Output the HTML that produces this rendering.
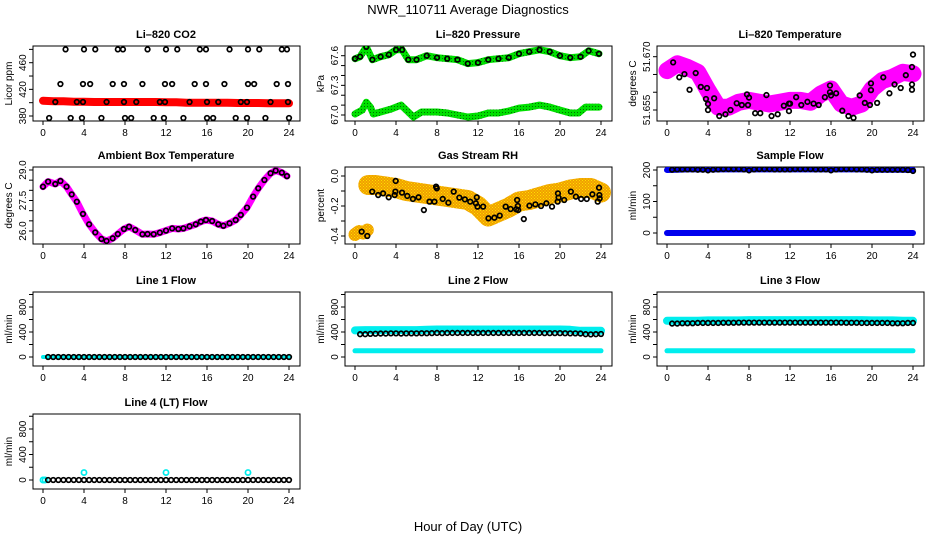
<!DOCTYPE html>
<html><head><meta charset="utf-8"><style>
html,body{margin:0;padding:0;background:#fff;}
svg{display:block;font-family:"Liberation Sans",sans-serif;}
</style></head><body>
<svg id="c" width="936" height="540" viewBox="0 0 936 540" xmlns="http://www.w3.org/2000/svg">
<defs>
<pattern id="rhPat" width="3" height="3" patternUnits="userSpaceOnUse">
<rect width="3" height="3" fill="#f0a000"/>
<rect x="0" y="0" width="1" height="1" fill="#ffe000"/>
<rect x="1.5" y="1.5" width="1" height="1" fill="#ffe000"/>
</pattern>
<pattern id="grPat" width="3" height="3" patternUnits="userSpaceOnUse">
<rect width="3" height="3" fill="#00e000"/>
<rect x="1" y="1" width="1" height="1" fill="#007000"/>
</pattern>
</defs>
<rect width="936" height="540" fill="#fff"/>
<text x="468" y="14" text-anchor="middle" font-size="13">NWR_110711  Average Diagnostics</text>
<text x="468" y="531" text-anchor="middle" font-size="13">Hour of Day (UTC)</text>
</svg>
<script>
// ---------- data ----------
const xTicks = [0,4,8,12,16,20,24];
const H48 = [0.5,1,1.5,2,2.5,3,3.5,4,4.5,5,5.5,6,6.5,7,7.5,8,8.5,9,9.5,10,10.5,11,11.5,12,12.5,13,13.5,14,14.5,15,15.5,16,16.5,17,17.5,18,18.5,19,19.5,20,20.5,21,21.5,22,22.5,23,23.5,24];
const H25 = [0,1,2,3,4,5,6,7,8,9,10,11,12,13,14,15,16,17,18,19,20,21,22,23,24];

// Li-820 CO2
const co2BandVals = [403,402,402,401.5,401.5,401,401,401,401,401,401,401,400.5,400.5,400,400,400,400,400,399.5,399.5,399.5,399,399,399];
const co2Hours = [2.2,4.0,5.1,7.3,7.8,10.2,12.0,13.1,15.3,15.9,18.2,20.0,21.1,23.3,23.8,
 1.7,3.9,4.6,6.8,7.9,9.7,11.9,12.6,14.8,15.9,17.7,20.0,20.6,22.8,23.9,
 1.2,3.3,3.9,6.2,7.9,9.1,11.4,11.9,14.3,16.0,17.1,19.3,19.9,22.2,23.9,
 0.6,2.7,3.8,5.7,8.0,8.6,10.8,11.8,13.7,16.0,16.6,18.8,19.9,21.7,24.0];
const co2Vals = [480,480,480,480,480,480,480,480,480,480,480,480,480,480,480,
 428,428,428,428,428,428,428,428,428,428,428,428,428,428,428,
 401,401,401,401,401,401,401,401,401,401,401,401,401,401,401,
 377,377,377,377,377,377,377,377,377,377,377,377,377,377,377];

// Li-820 Pressure
const presUpHours = [0,0.5,1.1,1.7,2.5,3.3,4,4.6,5.2,6,7,8,9,10,11,12,13,14,15,16,17,18,19,20,21,22,22.8,23.8];
const presUpVals = [67.57,67.59,67.69,67.56,67.59,67.61,67.66,67.66,67.56,67.56,67.60,67.58,67.57,67.56,67.52,67.53,67.56,67.57,67.58,67.62,67.64,67.66,67.64,67.60,67.58,67.59,67.65,67.62];
const presLoHours = [0,0.7,1.1,1.5,1.8,2.5,3.5,4.5,5,5.7,6.5,8,9,10,11,12,13,14,15,16,17,18,19,20,21,21.8,22.5,23.8];
const presLoVals = [67.01,67.05,67.13,67.08,67.01,67.03,67.06,67.10,67.05,66.98,67.03,67.03,67.02,67.00,66.98,66.99,67.02,67.02,67.04,67.07,67.08,67.10,67.08,67.05,67.02,67.02,67.08,67.08];

// Li-820 Temperature
const tempBandVals = [51.6661,51.6680,51.6670,51.6656,51.6605,51.6558,51.6558,51.6572,51.6577,51.6572,51.6567,51.6572,51.6577,51.6577,51.6572,51.6595,51.6609,51.6567,51.6558,51.6567,51.6609,51.6633,51.6642,51.6656,51.6652];
const tempHours = [0.6,1.2,1.7,2.2,2.8,3.3,3.8,3.9,4.0,4.0,4.6,5.1,5.7,6.2,6.8,7.3,7.8,7.9,8.0,8.6,9.1,9.7,10.2,10.8,11.4,11.9,11.9,12.0,12.6,13.1,13.7,14.3,14.8,15.4,15.9,15.9,16.0,16.5,17.1,17.7,18.2,18.8,19.3,19.8,19.9,19.9,20.5,21.1,21.7,22.2,22.8,23.3,23.9,23.9,23.9,24.0];
const tempVals = [51.6684,51.6642,51.6651,51.6607,51.6654,51.6615,51.6581,51.6612,51.6550,51.6567,51.6583,51.6533,51.6538,51.6550,51.6569,51.6564,51.6594,51.6564,51.6585,51.6541,51.6541,51.6592,51.6533,51.6538,51.6562,51.6568,51.6547,51.6568,51.6586,51.6564,51.6573,51.6568,51.6564,51.6586,51.6600,51.6619,51.6591,51.6597,51.6548,51.6533,51.6528,51.6591,51.6570,51.6564,51.6625,51.6606,51.6570,51.6642,51.6597,51.6622,51.6612,51.6648,51.6671,51.6607,51.6622,51.6706];

// Ambient Box Temperature
const ambHours = [0,0.5,1.2,1.7,2.3,2.8,3.3,3.9,4.5,5.1,5.7,6.2,6.8,7.3,7.9,8.4,9,9.7,10.2,10.8,11.4,12,12.6,13.2,13.7,14.3,14.9,15.4,15.9,16.5,17.1,17.6,18.2,18.8,19.3,19.9,20.5,21,21.6,22.2,22.7,23.3,23.8];
const ambVals = [28.18,28.43,28.31,28.46,28.18,27.80,27.44,26.84,26.33,25.93,25.61,25.51,25.64,25.85,26.10,26.21,26.05,25.84,25.85,25.84,25.92,26.02,26.13,26.10,26.13,26.23,26.33,26.46,26.54,26.49,26.33,26.26,26.38,26.54,26.79,27.15,27.69,28.10,28.51,28.84,28.97,28.87,28.70];

// Gas Stream RH
const rhEarlyHours = [0,0.4,0.8,1.2];
const rhEarlyVals = [-0.39,-0.37,-0.38,-0.36];
const rhBandHours = [1.3,2,3,4,5,6,7,8,9,10,11,12,13,14,15,16,17,18,19,20,21,22,23,24];
const rhBandVals = [-0.06,-0.06,-0.07,-0.08,-0.10,-0.11,-0.12,-0.13,-0.14,-0.15,-0.16,-0.20,-0.27,-0.24,-0.21,-0.17,-0.16,-0.14,-0.12,-0.11,-0.09,-0.08,-0.08,-0.11];
const rhHours = [0.65,1.2,1.68,2.26,2.74,3.29,3.87,3.94,3.97,4.59,5.10,5.65,6.20,6.72,7.27,7.75,7.91,7.98,8.56,9.11,9.63,10.18,10.72,11.24,11.79,11.88,11.95,12.50,13.02,13.60,14.12,14.70,15.18,15.73,15.82,15.89,15.92,16.47,17.02,17.60,18.15,18.67,19.22,19.77,19.80,19.86,20.41,21.06,21.55,22.06,22.61,23.16,23.68,23.81,23.84,23.87];
const rhVals = [-0.371,-0.400,-0.104,-0.127,-0.116,-0.142,-0.127,-0.104,-0.033,-0.111,-0.133,-0.153,-0.142,-0.227,-0.171,-0.171,-0.071,-0.082,-0.153,-0.178,-0.104,-0.144,-0.156,-0.171,-0.182,-0.142,-0.204,-0.204,-0.282,-0.278,-0.264,-0.204,-0.220,-0.222,-0.160,-0.200,-0.227,-0.287,-0.198,-0.189,-0.200,-0.182,-0.204,-0.171,-0.116,-0.144,-0.160,-0.104,-0.138,-0.153,-0.153,-0.122,-0.171,-0.078,-0.127,-0.149];

// Sample Flow
const sampleBlack = [201,202,202,202,202,201,201,199,201,202,203,203,203,203,202,199,202,203,203,203,202,202,202,202,203,203,203,203,202,202,202,199,202,203,203,203,202,202,201,199,201,201,201,201,201,201,200,197];
const sampleBlueHigh = [200,201,202,202,202,202,202,202,202,202,202,202,202,202,202,202,202,202,202,202,201,201,201,201,200];
const sampleBlueLow = [0,0,0,0,0,0,0,0,0,0,0,0,0,0,0,0,0,0,0,0,0,0,0,0,0];

// Flows
const line1Black = [0,0,0,0,0,0,0,0,0,0,0,0,0,0,0,0,0,0,0,0,0,0,0,0,0,0,0,0,0,0,0,0,0,0,0,0,0,0,0,0,0,0,0,0,0,0,0,0];
const line1Cyan = [0,0,0,0,0,0,0,0,0,0,0,0,0,0,0,0,0,0,0,0,0,0,0,0,0];
const line2Black = [365,365,370,372,375,375,378,378,375,378,378,378,380,380,382,385,382,385,385,385,385,385,385,385,385,385,385,385,385,385,385,385,385,385,385,385,382,382,382,382,380,378,378,375,365,362,365,368];
const line2CyanHigh = [425,430,430,430,430,430,430,435,440,440,440,440,440,440,440,440,440,440,440,440,440,435,420,420,420];
const line2CyanLow = [100,100,100,100,100,100,100,100,100,100,100,100,100,100,100,100,100,100,100,100,100,100,100,100,100];
const line3Black = [535,535,540,540,540,545,545,545,545,545,548,548,548,550,550,550,550,550,550,550,550,550,550,550,550,550,550,550,550,550,550,550,550,550,548,548,548,545,545,545,545,545,545,540,540,540,545,545];
const line3CyanHigh = [580,580,580,580,585,585,585,585,590,590,590,590,590,590,590,590,590,590,590,590,585,585,585,580,580];
const line3CyanLow = [100,100,100,100,100,100,100,100,100,100,100,100,100,100,100,100,100,100,100,100,100,100,100,100,100];
const line4Black = [0,0,0,0,0,0,0,0,0,0,0,0,0,0,0,0,0,0,0,0,0,0,0,0,0,0,0,0,0,0,0,0,0,0,0,0,0,0,0,0,0,0,0,0,0,0,0,0];
const line4CyanHours = [0,0.2,4,12,20];
const line4CyanVals = [0,0,117,117,117];

// ---------- drawing ----------
const NS = "http://www.w3.org/2000/svg";
const svg = document.getElementById('c');
function mk(tag, attrs, parent){
  const e = document.createElementNS(NS, tag);
  for (const k in attrs) e.setAttribute(k, attrs[k]);
  (parent||svg).appendChild(e);
  return e;
}
const rows = [[46,121],[167,244],[292,366],[414,489]];
function panel(col,row,title,ylab,v1,p1,v2,p2,yTicks,yLabels,name){
  const off = col*312;
  const [top,bot] = rows[row];
  const g = mk('g',{});
  
  
  const x = h => off+43 + h*(246/24);
  const y = v => p1 + (v-v1)*(p2-p1)/(v2-v1);
  const bx = mk('rect',{x:off+33,y:top,width:267,height:bot-top,fill:'none',stroke:'#000','stroke-width':1},g);
  
  
  const t = mk('text',{x:off+166,y:top-8,'text-anchor':'middle','font-size':11,'font-weight':'bold'},g);
  t.textContent = title;
  
  
  const yl = mk('text',{transform:`translate(${off+12},${(top+bot)/2}) rotate(-90)`,'text-anchor':'middle','font-size':10},g);
  yl.textContent = ylab;
  
  
  xTicks.forEach(h=>{
    mk('line',{x1:x(h),x2:x(h),y1:bot,y2:bot+4,stroke:'#000'},g);
    const tl = mk('text',{x:x(h),y:bot+15,'text-anchor':'middle','font-size':10},g);
    tl.textContent = h;
    
    
  });
  yTicks.forEach(v=>{
    mk('line',{x1:off+29,x2:off+33,y1:y(v),y2:y(v),stroke:'#000'},g);
  });
  yLabels.forEach(s=>{
    const tl = mk('text',{transform:`translate(${off+26},${y(parseFloat(s))}) rotate(-90)`,'text-anchor':'middle','font-size':10},g);
    tl.textContent = s;
    
    
  });
  const clip = 'clip-'+name;
  const cp = mk('clipPath',{id:clip},g);
  mk('rect',{x:off+33,y:top,width:267,height:bot-top},cp);
  const pg = mk('g',{'clip-path':`url(#${clip})`},g);
  return {x,y,g:pg};
}
function band(P,hours,vals,color,w,name){
  const pts = hours.map((h,i)=>P.x(h).toFixed(1)+','+P.y(vals[i]).toFixed(1)).join(' ');
  const e = mk('polyline',{points:pts,fill:'none',stroke:color,'stroke-width':w,'stroke-linejoin':'round','stroke-linecap':'round'},P.g);
  
  
}
function circles(P,hours,vals,color,name,r){
  hours.forEach((h,i)=>{
    const e = mk('circle',{cx:P.x(h),cy:P.y(vals[i]),r:r||2.3,fill:'none',stroke:color,'stroke-width':1.7},P.g);
    
    
  });
}

// Panel 1
let P = panel(0,0,'Li\u2013820 CO2','Licor ppm',380,116,460,62.7,[380,400,420,440,460,480],['380','420','460'],'co2');
band(P,H25,co2BandVals,'#f00',8,'co2-band');
circles(P,co2Hours,co2Vals,'#000','co2-point');

// Panel 2
P = panel(1,0,'Li\u2013820 Pressure','kPa',67.0,115,67.6,55.7,[67.0,67.1,67.2,67.3,67.4,67.5,67.6],['67.0','67.3','67.6'],'pressure');
band(P,presUpHours,presUpVals,'url(#grPat)',7,'pressure-upper-band');
band(P,presLoHours,presLoVals,'url(#grPat)',7,'pressure-lower-band');
circles(P,presUpHours,presUpVals,'#000','pressure-point');

// Panel 3
P = panel(2,0,'Li\u2013820 Temperature','degrees C',51.655,110,51.670,56.7,[51.655,51.660,51.665,51.670],['51.655','51.670'],'li820-temp');
band(P,H25,tempBandVals,'#f0f',17,'li820-temp-band');
circles(P,tempHours,tempVals,'#000','li820-temp-point');

// Panel 4
P = panel(0,1,'Ambient Box Temperature','degrees C',26.0,231,29.0,170,[26.0,26.5,27.0,27.5,28.0,28.5,29.0],['26.0','27.5','29.0'],'ambient-temp');
band(P,ambHours,ambVals,'#f0f',7,'ambient-temp-band');
circles(P,ambHours,ambVals,'#000','ambient-temp-point');

// Panel 5
P = panel(1,1,'Gas Stream RH','percent',0,176,-0.4,236,[0,-0.1,-0.2,-0.3,-0.4],['0.0','-0.2','-0.4'],'gas-rh');
band(P,rhEarlyHours,rhEarlyVals,'url(#rhPat)',13,'gas-rh-early-band');
band(P,rhBandHours,rhBandVals,'url(#rhPat)',20,'gas-rh-band');
circles(P,rhHours,rhVals,'#000','gas-rh-point');

// Panel 6
P = panel(2,1,'Sample Flow','ml/min',0,233,200,170,[0,50,100,150,200],['0','100','200'],'sample-flow');
band(P,H25,sampleBlueHigh,'#0000ee',6,'sample-flow-high');
band(P,H25,sampleBlueLow,'#0000ee',6,'sample-flow-low');
circles(P,H48,sampleBlack,'#000','sample-flow-point');

// Panel 7
P = panel(0,2,'Line 1 Flow','ml/min',0,357,800,307,[0,200,400,600,800,1000],['0','400','800'],'line1-flow');
band(P,H25,line1Cyan,'#00eeee',4,'line1-flow-band');
circles(P,H48,line1Black,'#000','line1-flow-point');

// Panel 8
P = panel(1,2,'Line 2 Flow','ml/min',0,357,800,307,[0,200,400,600,800,1000],['0','400','800'],'line2-flow');
band(P,H25,line2CyanHigh,'#00eeee',8,'line2-flow-high');
band(P,H25,line2CyanLow,'#00eeee',5,'line2-flow-low');
circles(P,H48,line2Black,'#000','line2-flow-point');

// Panel 9
P = panel(2,2,'Line 3 Flow','ml/min',0,357,800,307,[0,200,400,600,800,1000],['0','400','800'],'line3-flow');
band(P,H25,line3CyanHigh,'#00eeee',8,'line3-flow-high');
band(P,H25,line3CyanLow,'#00eeee',5,'line3-flow-low');
circles(P,H48,line3Black,'#000','line3-flow-point');

// Panel 10
P = panel(0,3,'Line 4 (LT) Flow','ml/min',0,480,800,429,[0,200,400,600,800,1000],['0','400','800'],'line4-flow');
circles(P,line4CyanHours,line4CyanVals,'#00eeee','line4-flow-cyan-point',2.6);
circles(P,H48,line4Black,'#000','line4-flow-point');
</script>
</body></html>
